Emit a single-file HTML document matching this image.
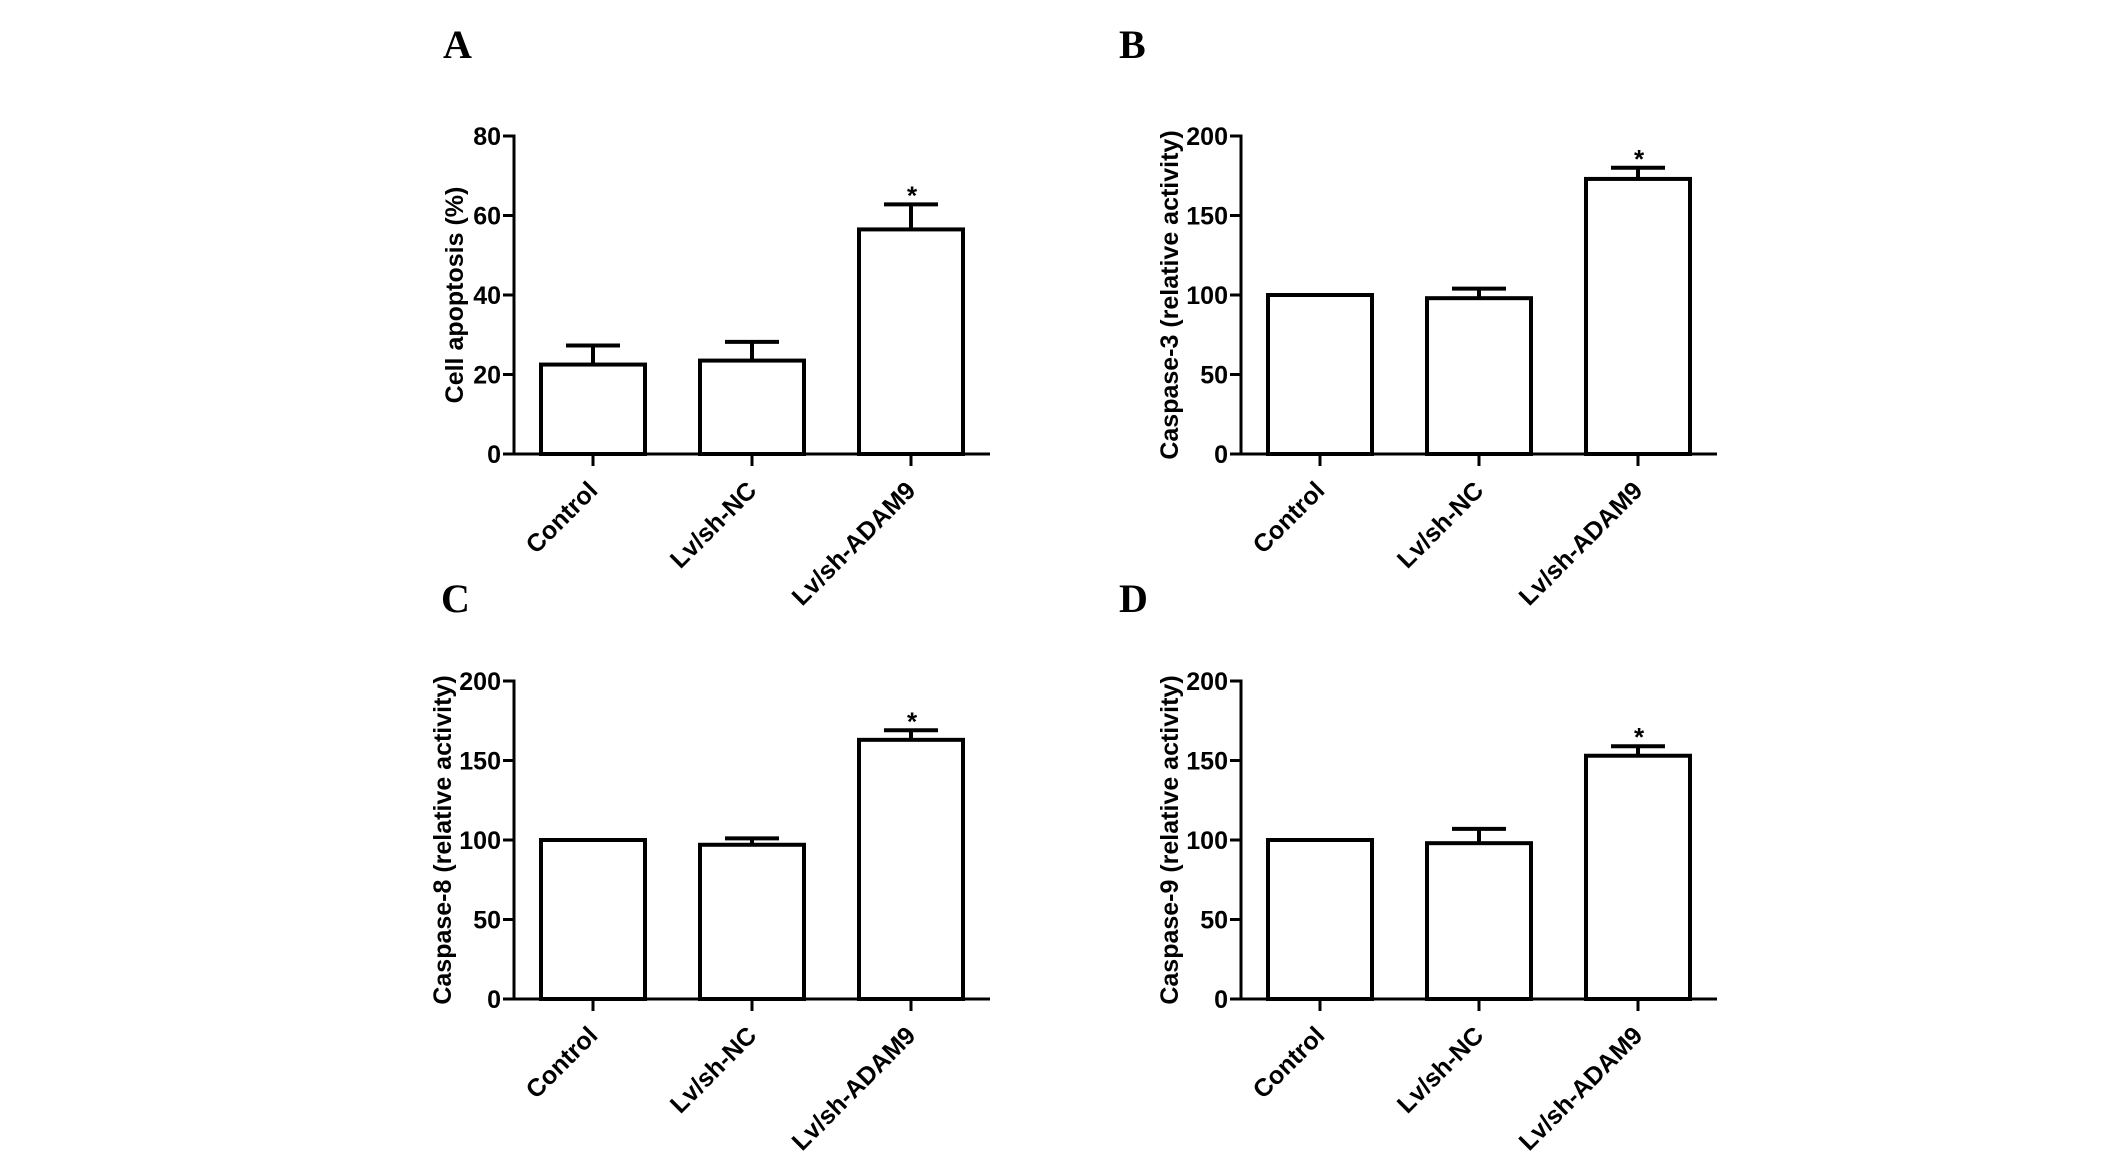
<!DOCTYPE html>
<html><head><meta charset="utf-8"><style>
html,body{margin:0;padding:0;background:#fff;}
svg{display:block;}
text{font-family:"Liberation Sans",Arial,sans-serif;font-weight:bold;fill:#000;}
.letter{font-family:"Liberation Serif","Times New Roman",serif;font-size:40px;}
</style></head><body>
<svg id="fig" width="2126" height="1159" viewBox="0 0 2126 1159"></svg>
<script>
const categories = ["Control", "Lv/sh-NC", "Lv/sh-ADAM9"];
const valuesA = [22.5, 23.5, 56.5];
const errorsA = [4.8, 4.7, 6.3];
const ticksA = [0, 20, 40, 60, 80];
const valuesB = [100, 98, 173];
const errorsB = [0, 6, 7];
const ticksB = [0, 50, 100, 150, 200];
const valuesC = [100, 97, 163];
const errorsC = [0, 4, 6];
const ticksC = [0, 50, 100, 150, 200];
const valuesD = [100, 98, 153];
const errorsD = [0, 9, 6];
const ticksD = [0, 50, 100, 150, 200];
const starsA = [false, false, true];
const starsB = [false, false, true];
const starsC = [false, false, true];
const starsD = [false, false, true];

const NS = "http://www.w3.org/2000/svg";
const svg = document.getElementById("fig");
function mk(tag, attrs, parent) {
  const e = document.createElementNS(NS, tag);
  for (const k in attrs) e.setAttribute(k, attrs[k]);
  (parent || svg).appendChild(e);
  return e;
}
function panel(id, letter, lx0, ly0, ox, oy, titleText, titleX, values, errors, ticks, stars) {
  const g = mk("g", {});
  
  
  const top = oy, zero = oy + 318, ymax = ticks[ticks.length - 1];
  const y = v => zero - (v / ymax) * (zero - top);
  const x = i => ox + 79 + i * 159;
  const L = mk("text", {x: lx0, y: ly0, class: "letter"}, g);
  L.textContent = letter;
  
  
  values.forEach((v, i) => {
    const bx = x(i);
    const r = mk("rect", {x: bx - 52, y: y(v), width: 104, height: zero - y(v), fill: "#fff", stroke: "#000", "stroke-width": 4}, g);
    
    
    if (errors[i] > 0) {
      const et = y(v + errors[i]);
      const e1 = mk("line", {x1: bx, x2: bx, y1: y(v), y2: et, stroke: "#000", "stroke-width": 4}, g);
      
      
      const e2 = mk("line", {x1: bx - 27, x2: bx + 27, y1: et, y2: et, stroke: "#000", "stroke-width": 4}, g);
      
      
    }
    if (stars[i]) {
      const s = mk("text", {x: bx + 1, y: y(v + errors[i]), "text-anchor": "middle", "font-size": 26}, g);
      s.textContent = "*";
      
      
    }
    const t = mk("line", {x1: bx, x2: bx, y1: zero, y2: zero + 12, stroke: "#000", "stroke-width": 3}, g);
    
    
    const lx = bx + 6, ly = zero + 38;
    const lab = mk("text", {x: lx, y: ly, "text-anchor": "end", "font-size": 25, transform: `rotate(-45 ${lx} ${ly})`}, g);
    lab.textContent = categories[i];
    
    
  });
  const ya = mk("line", {x1: ox, x2: ox, y1: top - 1.5, y2: zero + 1.5, stroke: "#000", "stroke-width": 3}, g);
  
  
  const xa = mk("line", {x1: ox - 11, x2: ox + 476, y1: zero, y2: zero, stroke: "#000", "stroke-width": 3}, g);
  
  
  ticks.forEach(tv => {
    const ty = y(tv);
    const tl = mk("line", {x1: ox - 11, x2: ox, y1: ty, y2: ty, stroke: "#000", "stroke-width": 3}, g);
    
    
    const tt = mk("text", {x: ox - 13, y: ty + 9, "text-anchor": "end", "font-size": 25}, g);
    tt.textContent = tv;
    
    
  });
  const cy = (top + zero) / 2;
  const ti = mk("text", {x: titleX, y: cy, "text-anchor": "middle", "font-size": 25, transform: `rotate(-90 ${titleX} ${cy})`}, g);
  ti.textContent = titleText;
  
  
}
panel("a", "A", 443, 58, 514, 136, "Cell apoptosis (%)", 463, valuesA, errorsA, ticksA, starsA);
panel("b", "B", 1119, 58, 1241, 136, "Caspase-3 (relative activity)", 1178, valuesB, errorsB, ticksB, starsB);
panel("c", "C", 441, 612, 514, 681, "Caspase-8 (relative activity)", 451, valuesC, errorsC, ticksC, starsC);
panel("d", "D", 1119, 612, 1241, 681, "Caspase-9 (relative activity)", 1178, valuesD, errorsD, ticksD, starsD);
</script>
</body></html>
